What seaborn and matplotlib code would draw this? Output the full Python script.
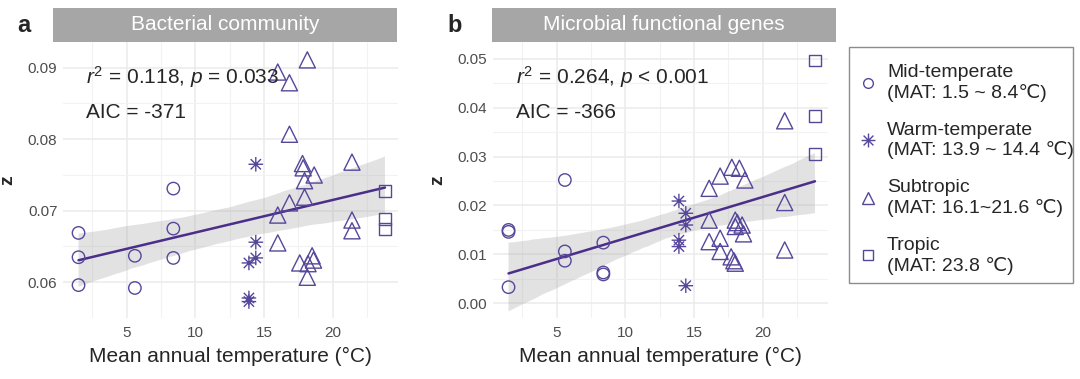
import numpy as np
import pandas as pd
import seaborn as sns
import matplotlib.pyplot as plt
from matplotlib.path import Path
from matplotlib.lines import Line2D
from matplotlib.patches import Rectangle
from matplotlib.ticker import MultipleLocator

groups = ['Mid-temperate', 'Warm-temperate', 'Subtropic', 'Tropic']
legend_labels = ['Mid-temperate\n(MAT: 1.5 ~ 8.4℃)',
                 'Warm-temperate\n(MAT: 13.9 ~ 14.4 ℃)',
                 'Subtropic\n(MAT: 16.1~21.6 ℃)',
                 'Tropic\n(MAT: 23.8 ℃)']

# panel a - bacterial community
a_mid_t = [1.5, 1.5, 1.5, 5.6, 5.6, 8.4, 8.4, 8.4]
a_mid_z = [0.0669, 0.0635, 0.0596, 0.0637, 0.0592, 0.0731, 0.0675, 0.0634]
a_warm_t = [14.4, 14.4, 14.4, 13.9, 13.9, 13.9]
a_warm_z = [0.0765, 0.0656, 0.0634, 0.0627, 0.0578, 0.0573]
a_sub_t = [18.15, 16.0, 16.85, 16.85, 17.8, 17.85, 18.65, 17.95, 21.4, 17.95,
           16.85, 16.0, 21.4, 21.4, 16.0, 17.6, 18.2, 18.5, 18.6, 18.15]
a_sub_z = [0.0911, 0.0894, 0.0879, 0.0807, 0.0766, 0.0760, 0.0750, 0.0742, 0.0768, 0.0719,
           0.0711, 0.0694, 0.0687, 0.0672, 0.0655, 0.0627, 0.0626, 0.0637, 0.0631, 0.0607]
a_trop_t = [23.8, 23.8, 23.8]
a_trop_z = [0.0728, 0.0688, 0.0674]

# panel b - microbial functional genes
b_mid_t = [1.5, 1.5, 1.5, 5.6, 5.6, 5.6, 8.4, 8.4, 8.4]
b_mid_z = [0.0150, 0.0146, 0.0033, 0.0252, 0.0106, 0.0087, 0.0124, 0.0063, 0.0059]
b_warm_t = [13.9, 14.4, 14.4, 13.9, 13.9, 14.4]
b_warm_z = [0.0209, 0.0184, 0.0160, 0.0129, 0.0116, 0.0036]
b_sub_t = [21.6, 21.6, 21.6, 16.1, 16.9, 17.75, 18.3, 18.7, 16.1, 18.0,
           18.15, 18.5, 18.0, 18.6, 16.1, 16.9, 16.9, 17.7, 17.9, 18.0]
b_sub_z = [0.0373, 0.0206, 0.0109, 0.0235, 0.0260, 0.0278, 0.0276, 0.0252, 0.0170, 0.0170,
           0.0165, 0.0160, 0.0157, 0.0142, 0.0126, 0.0133, 0.0106, 0.0095, 0.0087, 0.0082]
b_trop_t = [23.8, 23.8, 23.8]
b_trop_z = [0.0496, 0.0383, 0.0305]

stats_a = [r'$r^2$ = 0.118, $p$ = 0.033', 'AIC = -371']
stats_b = [r'$r^2$ = 0.264, $p$ < 0.001', 'AIC = -366']


def make_df(parts):
    rows = []
    for g, (t, z) in zip(groups, parts):
        rows.append(pd.DataFrame({'MAT': t, 'z': z, 'group': g}))
    return pd.concat(rows, ignore_index=True)


df_a = make_df([(a_mid_t, a_mid_z), (a_warm_t, a_warm_z), (a_sub_t, a_sub_z), (a_trop_t, a_trop_z)])
df_b = make_df([(b_mid_t, b_mid_z), (b_warm_t, b_warm_z), (b_sub_t, b_sub_z), (b_trop_t, b_trop_z)])

# ggplot-like asterisk (shape 8)
d = np.sqrt(0.5)
star = Path([(0, -1), (0, 1), (-1, 0), (1, 0), (-d, -d), (d, d), (-d, d), (d, -d)],
            [Path.MOVETO, Path.LINETO] * 4)

markers = {'Mid-temperate': 'o', 'Warm-temperate': star, 'Subtropic': '^', 'Tropic': 's'}
sizes = {'Mid-temperate': 80, 'Warm-temperate': 110, 'Subtropic': 135, 'Tropic': 72}

purple = '#56479A'
line_col = '#4A2E8A'
W, H = 1080, 379

sns.set_style('white')
plt.rcParams['font.family'] = ['Liberation Sans', 'DejaVu Sans']
plt.rcParams['mathtext.fontset'] = 'custom'
plt.rcParams['mathtext.rm'] = 'Liberation Sans'
plt.rcParams['mathtext.it'] = 'Liberation Sans:italic'

fig = plt.figure(figsize=(W / 100, H / 100), dpi=100)

panels = [
    (df_a, 63, (0.0550, 0.0936), 0.01, 0.005, 'a', 'Bacterial community', stats_a, 53, 344, 17),
    (df_b, 493, (-0.0030, 0.0534), 0.01, 0.005, 'b', 'Microbial functional genes', stats_b, 492, 344, 447),
]

for df, left, ylim, ymaj, ymin, tag, title, stats, sx, sw, tagx in panels:
    ax = fig.add_axes([left / W, 61 / H, 335 / W, 276 / H])
    sns.regplot(data=df, x='MAT', y='z', scatter=False, ax=ax, color=line_col,
                ci=95, seed=1, line_kws={'lw': 1.8})
    band = ax.collections[-1]
    band.set_facecolor('#A0A0A0')
    band.set_alpha(0.3)
    band.set_edgecolor('none')
    sns.scatterplot(data=df, x='MAT', y='z', style='group', markers=markers,
                    size='group', sizes=sizes, facecolor='none', edgecolor=purple,
                    linewidth=1.0, legend=False, ax=ax, zorder=3)
    ax.set_xlim(0.37, 24.75)
    ax.set_ylim(*ylim)
    ax.xaxis.set_major_locator(MultipleLocator(5))
    ax.xaxis.set_minor_locator(MultipleLocator(2.5))
    ax.yaxis.set_major_locator(MultipleLocator(ymaj))
    ax.yaxis.set_minor_locator(MultipleLocator(ymin))
    ax.yaxis.set_major_formatter(plt.FormatStrFormatter('%.2f'))
    ax.grid(which='major', color='#EBEBEB', lw=1.1)
    ax.grid(which='minor', color='#F2F2F2', lw=0.8)
    ax.set_axisbelow(True)
    for s in ax.spines.values():
        s.set_visible(False)
    ax.tick_params(which='both', length=0, labelsize=11, labelcolor='#4D4D4D')
    ax.tick_params(axis='x', pad=6)
    ax.tick_params(axis='y', pad=4)
    ax.set_xlabel('Mean annual temperature (°C)', fontsize=15, labelpad=5)
    ax.set_ylabel('z', fontsize=14, fontweight='bold', labelpad=8)
    ax.text(0.07, 0.873, stats[0], transform=ax.transAxes, fontsize=15, va='center')
    ax.text(0.07, 0.743, stats[1], transform=ax.transAxes, fontsize=15, va='center')

    fig.add_artist(Rectangle((sx / W, 1 - 42 / H), sw / W, 34 / H,
                             transform=fig.transFigure, color='#A6A6A6', lw=0))
    fig.text((sx + sw / 2) / W, 1 - 25 / H, title, color='white', fontsize=15,
             ha='center', va='center')
    fig.text(tagx / W, 1 - 25 / H, tag, fontsize=17, fontweight='bold',
             ha='left', va='center')

handles = [
    Line2D([], [], ls='none', marker='o', ms=7, mfc='none', mec=purple, mew=1.0),
    Line2D([], [], ls='none', marker=star, ms=10, mfc='none', mec=purple, mew=1.0),
    Line2D([], [], ls='none', marker='^', ms=9, mfc='none', mec=purple, mew=1.0),
    Line2D([], [], ls='none', marker='s', ms=6.5, mfc='none', mec=purple, mew=1.0),
]
# legend frame drawn separately so the padding can match
fig.add_artist(Rectangle((849 / W, 1 - 283 / H), 224 / W, 236 / H, transform=fig.transFigure,
                         facecolor='white', edgecolor='#8C8C8C', lw=1.0))
fig.legend(handles, legend_labels, loc='upper left',
           bbox_to_anchor=(856 / W, 1 - 64 / H), frameon=False,
           fontsize=14, labelspacing=1.02, handletextpad=0.4,
           borderpad=0, handlelength=1.2, borderaxespad=0)

fig.savefig('out.png', dpi=100)
